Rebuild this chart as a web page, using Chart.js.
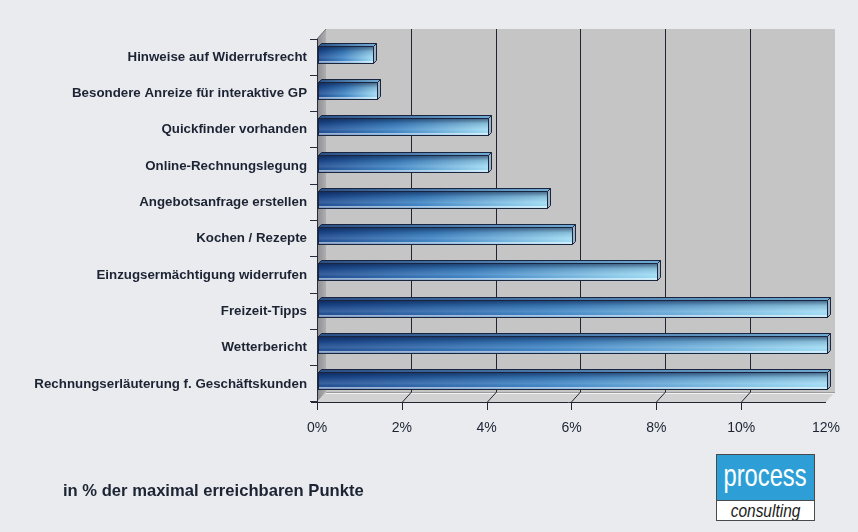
<!DOCTYPE html>
<html><head><meta charset="utf-8">
<script src="https://cdn.jsdelivr.net/npm/chart.js@4/dist/chart.umd.min.js"></script>
<style>
html,body{margin:0;padding:0;background:#e9ebee;}
#wrap{position:relative;width:858px;height:532px;overflow:hidden;background:#e9ebee;}
#c{position:absolute;left:0;top:0;}
#note{position:absolute;left:63px;top:481px;font:bold 16.6px "Liberation Sans",Arial,sans-serif;color:#1c2333;white-space:nowrap;}
#logo{position:absolute;left:716px;top:454px;width:99px;height:67px;border:1px solid #4a4a4a;background:#fff;box-sizing:border-box;overflow:hidden;}
#logo .t{background:#2d9fd6;height:46px;color:#fff;text-align:center;border-bottom:1px solid #4a4a4a;box-sizing:border-box;white-space:nowrap;}
#logo .t span{display:inline-block;font:32px "Liberation Sans",Arial,sans-serif;line-height:40px;transform:scaleX(0.74);transform-origin:center;margin:0 -20px;}
#logo .b{text-align:center;color:#1c1c1c;line-height:19px;white-space:nowrap;}
#logo .b span{display:inline-block;font:italic 18px "Liberation Sans",Arial,sans-serif;transform:scaleX(0.86);margin:0 -10px;}
</style></head>
<body>
<div id="wrap">
<canvas id="c" width="858" height="532"></canvas>
<div id="note">in % der maximal erreichbaren Punkte</div>
<div id="logo"><div class="t"><span>process</span></div><div class="b"><span>consulting</span></div></div>
</div>
<script>
const categories = [
  "Hinweise auf Widerrufsrecht",
  "Besondere Anreize für interaktive GP",
  "Quickfinder vorhanden",
  "Online-Rechnungslegung",
  "Angebotsanfrage erstellen",
  "Kochen / Rezepte",
  "Einzugsermächtigung widerrufen",
  "Freizeit-Tipps",
  "Wetterbericht",
  "Rechnungserläuterung f. Geschäftskunden"
];
const values = [1.3, 1.4, 4.0, 4.0, 5.4, 6.0, 8.0, 12.0, 12.0, 12.0];
const axisMin = 0, axisMax = 12, axisStep = 2;

const DX = 9, DY = 10;
const walls = {
  id: 'walls',
  beforeDraw(chart) {
    const {ctx, chartArea: a, scales: {x}} = chart;
    const L = a.left, R = a.right, T = a.top, B = a.bottom;
    ctx.save();
    ctx.fillStyle = '#c5c5c6';
    ctx.fillRect(L + DX, T - DY, R - L, B - T);
    const lg = ctx.createLinearGradient(L, 0, L + DX, 0);
    lg.addColorStop(0, '#8d8d8f'); lg.addColorStop(1, '#aeaeb0');
    ctx.fillStyle = lg;
    ctx.beginPath();
    ctx.moveTo(L, T); ctx.lineTo(L + DX, T - DY); ctx.lineTo(L + DX, B - DY); ctx.lineTo(L, B); ctx.closePath();
    ctx.fill();
    ctx.fillStyle = '#d2d2d3';
    ctx.beginPath();
    ctx.moveTo(L, B); ctx.lineTo(L + DX, B - DY); ctx.lineTo(R + DX, B - DY); ctx.lineTo(R, B); ctx.closePath();
    ctx.fill();
    ctx.strokeStyle = '#f2f2f2'; ctx.lineWidth = 1;
    ctx.beginPath(); ctx.moveTo(L + DX, B - DY + 1.5); ctx.lineTo(R + DX - 1, B - DY + 1.5); ctx.stroke();
    ctx.strokeStyle = '#9a9a9c';
    ctx.beginPath(); ctx.moveTo(L + DX, B - DY + 0.5); ctx.lineTo(R + DX, B - DY + 0.5); ctx.stroke();
    ctx.strokeStyle = '#20252f'; ctx.lineWidth = 1;
    x.ticks.forEach(t => {
      const px = Math.round(x.getPixelForValue(t.value)) + 0.5;
      ctx.beginPath();
      if (t.value > axisMin && t.value < axisMax) {
        ctx.moveTo(px + DX, T - DY); ctx.lineTo(px + DX, B - DY);
        ctx.lineTo(px, B);
      }
      if (t.value < axisMax) {
        ctx.moveTo(px, B); ctx.lineTo(px, B + 8);
      }
      ctx.stroke();
    });
    ctx.beginPath();
    ctx.moveTo(L - 6, B + 0.5); ctx.lineTo(R, B + 0.5);
    ctx.stroke();
    ctx.strokeStyle = '#6d6f75';
    ctx.beginPath(); ctx.moveTo(L, T); ctx.lineTo(L + DX, T - DY); ctx.stroke();
    ctx.restore();
  }
};

const bars3d = {
  id: 'bars3d',
  afterDatasetsDraw(chart) {
    const ctx = chart.ctx;
    const meta = chart.getDatasetMeta(0);
    const ox = 1, oy = -3, d = 3;
    ctx.save();
    meta.data.forEach(el => {
      const p = el.getProps(['x', 'y', 'base', 'height'], true);
      const x0 = Math.round(p.base + ox) + 0.5, x1 = Math.round(p.x + ox) + 0.5;
      const y0 = Math.round(p.y - p.height / 2 + oy) + 0.5, y1 = Math.round(p.y + p.height / 2 + oy) + 0.5;
      ctx.lineWidth = 1;
      ctx.strokeStyle = '#1a2640';
      ctx.beginPath();
      ctx.moveTo(x0, y0); ctx.lineTo(x0 + d, y0 - d); ctx.lineTo(x1 + d, y0 - d); ctx.lineTo(x1, y0); ctx.closePath();
      const tg = ctx.createLinearGradient(x0, 0, x1, 0);
      tg.addColorStop(0, '#2a4f86'); tg.addColorStop(1, '#6fa9d2');
      ctx.fillStyle = tg; ctx.fill(); ctx.stroke();
      const g = ctx.createLinearGradient(x0, 0, x1, 0);
      g.addColorStop(0, '#1c4a90'); g.addColorStop(0.45, '#3c82c3'); g.addColorStop(1, '#9edbf3');
      ctx.fillStyle = g; ctx.fillRect(x0, y0, x1 - x0, y1 - y0);
      const v = ctx.createLinearGradient(0, y0, 0, y1);
      v.addColorStop(0, 'rgba(8,22,60,0.6)'); v.addColorStop(0.3, 'rgba(8,22,60,0.15)');
      v.addColorStop(0.65, 'rgba(255,255,255,0.12)'); v.addColorStop(0.82, 'rgba(255,255,255,0.0)');
      v.addColorStop(0.88, 'rgba(255,255,255,0.55)'); v.addColorStop(1, 'rgba(255,255,255,0.35)');
      ctx.fillStyle = v; ctx.fillRect(x0, y0, x1 - x0, y1 - y0);
      ctx.strokeRect(x0, y0, x1 - x0, y1 - y0);
      ctx.beginPath();
      ctx.moveTo(x1, y0); ctx.lineTo(x1 + d, y0 - d); ctx.lineTo(x1 + d, y1 - d); ctx.lineTo(x1, y1); ctx.closePath();
      ctx.fillStyle = '#9fb4c4'; ctx.fill(); ctx.stroke();
    });
    ctx.restore();
  }
};

new Chart(document.getElementById('c'), {
  type: 'bar',
  data: {
    labels: categories,
    datasets: [{
      data: values,
      backgroundColor: 'rgba(0,0,0,0)',
      borderWidth: 0,
      barThickness: 17
    }]
  },
  options: {
    indexAxis: 'y',
    responsive: false,
    animation: false,
    events: [],
    layout: { padding: { top: 39, right: 29, left: 0, bottom: 70 } },
    plugins: { legend: { display: false }, tooltip: { enabled: false }, title: { display: false } },
    scales: {
      x: {
        min: axisMin, max: axisMax,
        afterFit(s) { s.height = 60; },
        grid: { display: false, drawTicks: false },
        border: { display: false },
        ticks: {
          stepSize: axisStep,
          padding: 18,
          color: '#1c2333',
          font: { family: '"Liberation Sans", Arial, sans-serif', size: 14 },
          callback: v => v + '%'
        }
      },
      y: {
        afterFit(s) { s.width = 317; },
        grid: { display: true, drawOnChartArea: false, drawTicks: true, tickLength: 7, color: '#262c3a', offset: true },
        border: { display: true, color: '#262c3a', width: 1 },
        ticks: {
          padding: 3,
          color: '#1c2333',
          font: { family: '"Liberation Sans", Arial, sans-serif', size: 13.3, weight: 'bold' }
        }
      }
    }
  },
  plugins: [walls, bars3d]
});
</script>
</body></html>
